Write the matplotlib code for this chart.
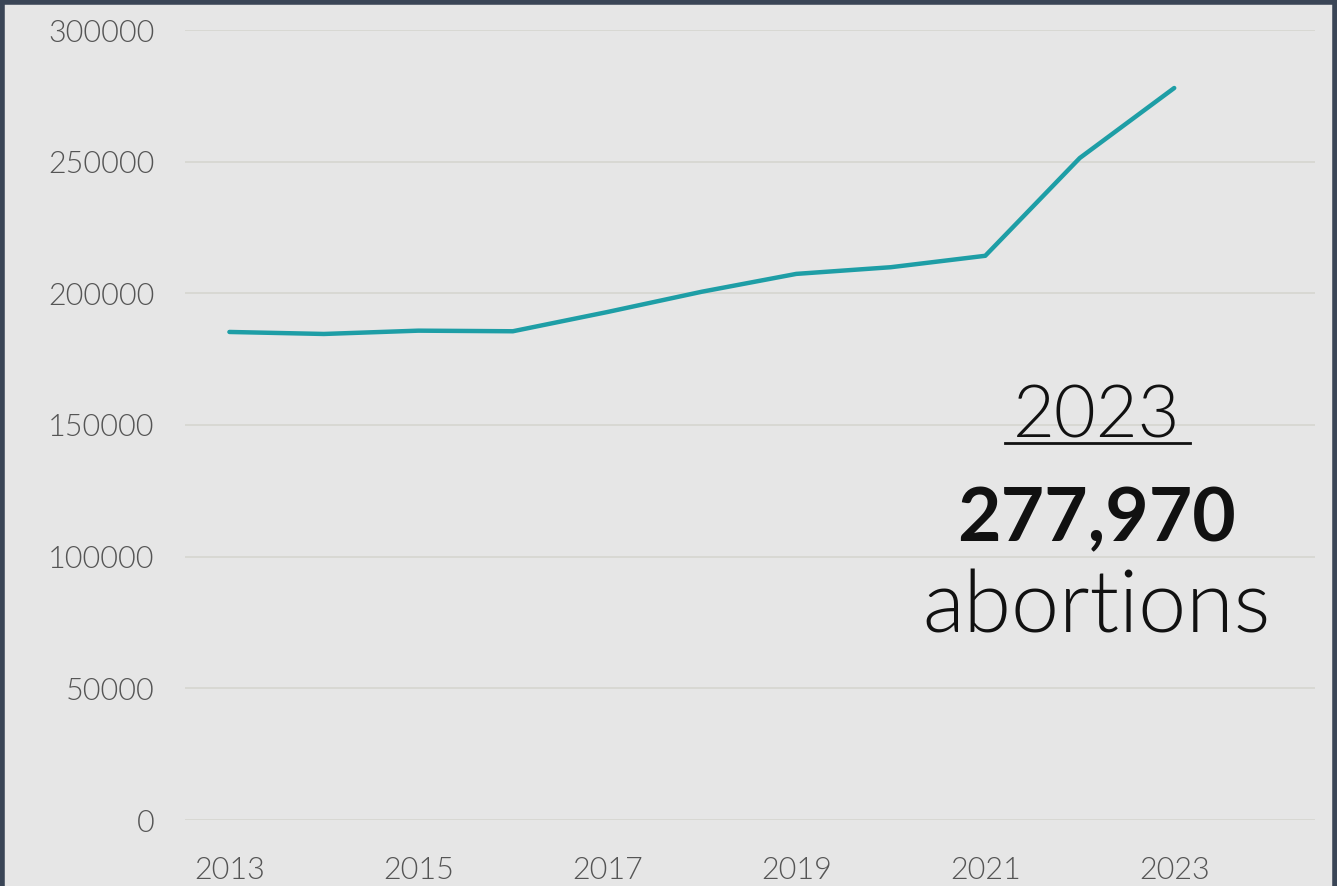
import matplotlib
matplotlib.use("Agg")
import matplotlib.pyplot as plt
from matplotlib.lines import Line2D

# abortions to residents of England & Wales, per year
years = [2013, 2014, 2015, 2016, 2017, 2018, 2019, 2020, 2021, 2022, 2023]
abortions = [185331, 184571, 185824, 185596, 192900, 200608, 207384,
             209917, 214256, 251377, 277970]
year_ticks = [2013, 2015, 2017, 2019, 2021, 2023]
y_ticks = [0, 50000, 100000, 150000, 200000, 250000, 300000]

BG = "#e6e6e6"
LINE = "#1e9ea6"
FRAME = "#3a4556"
TICK = "#555555"
FONT = ["Lato", "DejaVu Sans"]

W, H = 1337, 886
fig = plt.figure(figsize=(W / 100, H / 100), dpi=100, facecolor=BG)
ax = fig.add_axes([185 / W, 66 / H, 1130 / W, 790 / H])
ax.set_facecolor(BG)

ax.plot(years, abortions, color=LINE, linewidth=3.2, solid_joinstyle="round",
        solid_capstyle="round", zorder=3)

ax.set_xlim(2012.53, 2024.49)
ax.set_ylim(0, 300000)
ax.set_xticks(year_ticks)
ax.set_yticks(y_ticks)
ax.set_yticklabels([str(v) for v in y_ticks])
ax.grid(axis="y", color="#d6d6d0", linewidth=1.2)
ax.grid(axis="x", visible=False)
ax.set_axisbelow(True)
for s in ax.spines.values():
    s.set_visible(False)
ax.tick_params(length=0, labelcolor=TICK, labelsize=22)
ax.tick_params(axis="y", pad=22)
ax.tick_params(axis="x", pad=26)
for lab in ax.get_xticklabels() + ax.get_yticklabels():
    lab.set_family(FONT)
    lab.set_fontweight(300)

# call-out for the latest year
cx = 1097 / W
fig.text(cx, 1 - 417 / H, "2023", ha="center", va="center", fontsize=52,
         family=FONT, fontweight=300, color="#111111")
fig.add_artist(Line2D([1005 / W, 1190 / W], [1 - 443 / H, 1 - 443 / H],
                      color="#111111", linewidth=2, transform=fig.transFigure))
fig.text(cx, 1 - 520 / H, f"{abortions[-1]:,}", ha="center", va="center",
         fontsize=54, family=FONT, fontweight="bold", color="#111111")
fig.text(cx, 1 - 608 / H, "abortions", ha="center", va="center", fontsize=62,
         family=FONT, fontweight=300, color="#111111")

# dark frame on left, top and right
kw = dict(color=FRAME, linewidth=4, transform=fig.transFigure, solid_capstyle="butt")
fig.add_artist(Line2D([0.0015, 0.0015], [0, 1], **kw))
fig.add_artist(Line2D([0, 1], [0.9977, 0.9977], **kw))
fig.add_artist(Line2D([0.9985, 0.9985], [0, 1], **kw))

fig.savefig("out.png", dpi=100, facecolor=BG)
